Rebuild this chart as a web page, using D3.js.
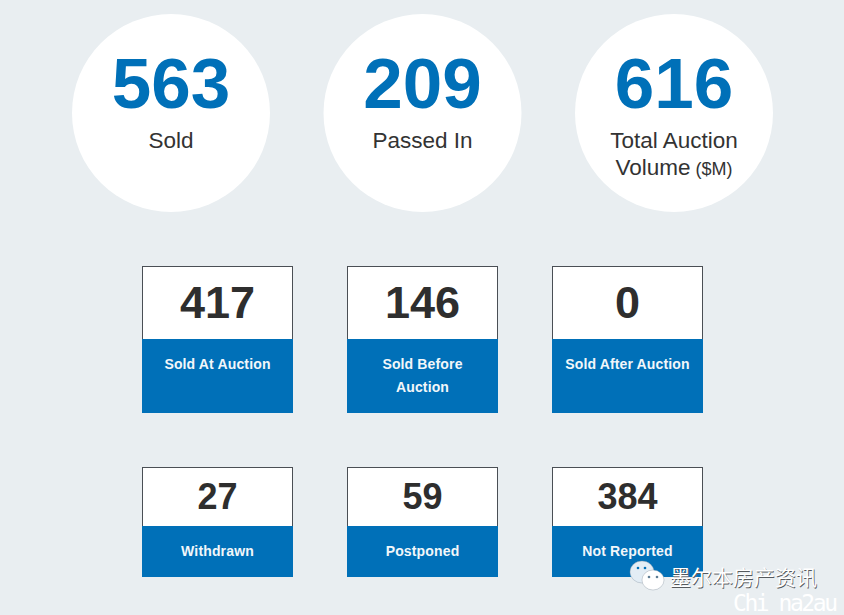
<!DOCTYPE html>
<html>
<head>
<meta charset="utf-8">
<script src="https://cdnjs.cloudflare.com/ajax/libs/d3/7.8.5/d3.min.js"></script>
<style>
html,body{margin:0;padding:0;background:#e9eef1;}
svg{display:block;}
text{font-family:"Liberation Sans",Arial,sans-serif;text-anchor:middle;}
</style>
</head>
<body>
<svg id="chart"></svg>
<script>
var circleValues = [563, 209, 616]
var circleLabels = [["Sold"], ["Passed In"], ["Total Auction", "Volume"]]
var topCardValues = [417, 146, 0]
var topCardLabels = [["Sold At Auction"], ["Sold Before", "Auction"], ["Sold After Auction"]]
var bottomCardValues = [27, 59, 384]
var bottomCardLabels = [["Withdrawn"], ["Postponed"], ["Not Reported"]]

var screen2 = {width:844,height:615}
var blue = "#0070b8"
var dark = "#2e2e2e"

var svg = d3.select("#chart")
    .attr("width",screen2.width)
    .attr("height",screen2.height)

svg.append("rect")
    .attr("width",screen2.width)
    .attr("height",screen2.height)
    .attr("fill","#e9eef1")

// circles across the top
var circleX = d3.scalePoint()
    .domain(d3.range(circleValues.length))
    .range([171,674])

var circles = svg.selectAll("g.circle")
    .data(circleValues)
    .enter()
    .append("g")
    .attr("class","circle")
    .attr("transform",function(d,i){return "translate("+circleX(i)+",113)"})

circles.append("circle")
    .attr("r",99)
    .attr("fill","#fff")

circles.append("text")
    .attr("y",-5)
    .attr("font-size",71)
    .attr("font-weight","bold")
    .attr("fill",blue)
    .text(function(d){return d})

circles.each(function(d,i){
    var label = d3.select(this).selectAll("text.label")
        .data(circleLabels[i])
        .enter()
        .append("text")
        .attr("class","label")
        .attr("y",function(l,j){return 35+j*27})
        .attr("font-size",22.5)
        .attr("fill","#333")
        .text(function(l){return l})
    if(i==2){
        d3.select(this).select("text.label:last-of-type")
            .append("tspan")
            .attr("font-size",18)
            .text(" ($M)")
    }
})

// boxes
var cardX = d3.scaleBand()
    .domain(d3.range(3))
    .range([142,703])
    .paddingInner(54/205)
    .paddingOuter(0)

var drawCards = function(values,labels,top,whiteH,blueH,numSize,numY)
{
    var cards = svg.selectAll("g.row"+top)
        .data(values)
        .enter()
        .append("g")
        .attr("class","row"+top)
        .attr("transform",function(d,i){return "translate("+cardX(i)+","+top+")"})

    var w = cardX.bandwidth()

    cards.append("rect")
        .attr("x",0.5)
        .attr("y",0.5)
        .attr("width",w-1)
        .attr("height",whiteH)
        .attr("fill","#fff")
        .attr("stroke","#4a4f55")
        .attr("stroke-width",1)

    cards.append("rect")
        .attr("y",whiteH)
        .attr("width",w)
        .attr("height",blueH)
        .attr("fill",blue)

    cards.append("text")
        .attr("x",w/2)
        .attr("y",numY)
        .attr("font-size",numSize)
        .attr("font-weight","bold")
        .attr("fill",dark)
        .text(function(d){return d})

    cards.each(function(d,i){
        d3.select(this).selectAll("text.label")
            .data(labels[i])
            .enter()
            .append("text")
            .attr("class","label")
            .attr("x",w/2)
            .attr("y",function(l,j){return whiteH+30+j*23})
            .attr("font-size",14)
            .attr("font-weight","bold")
            .attr("letter-spacing",0.15)
            .attr("fill","#f2f7fa")
            .text(function(l){return l})
    })
}

drawCards(topCardValues,topCardLabels,266,73,74,45,52)
drawCards(bottomCardValues,bottomCardLabels,467,59,51,36,42)

// watermark in the bottom corner
var mark = svg.append("g").attr("transform","translate(628,560)")
var bubble = function(cx,cy,rx,ry,fill){
    mark.append("ellipse").attr("cx",cx).attr("cy",cy).attr("rx",rx).attr("ry",ry)
        .attr("fill",fill).attr("stroke","#8a97a3").attr("stroke-width",0.4)
}
bubble(14,12,12,11,"#e3edf5")
bubble(25,20,11,10,"#ffffff")
mark.selectAll("circle.eye")
    .data([[10,8,"#0070b8"],[17,8,"#0070b8"],[21,17,"#5f7d94"],[29,17,"#5f7d94"]])
    .enter()
    .append("circle")
    .attr("class","eye")
    .attr("cx",function(d){return d[0]})
    .attr("cy",function(d){return d[1]})
    .attr("r",1.3)
    .attr("fill",function(d){return d[2]})

// dark copy sits behind the white one as a shadow
svg.selectAll("text.wm")
    .data([{dx:0.7,fill:"#55595d"},{dx:0,fill:"#fff"}])
    .enter()
    .append("text")
    .attr("class","wm")
    .attr("x",function(d){return 743.5+d.dx})
    .attr("y",function(d){return 585+d.dx})
    .attr("font-size",21)
    .style("font-family","'Noto Sans CJK SC'")
    .attr("fill",function(d){return d.fill})
    .text("墨尔本房产资讯")

svg.append("text")
    .attr("x",785.5)
    .attr("y",611)
    .attr("font-size",23)
    .style("font-family","'DejaVu Sans Mono'")
    .style("font-weight","200")
    .attr("fill","#fff")
    .attr("textLength",105)
    .text("Chi na2au")
</script>
</body>
</html>
